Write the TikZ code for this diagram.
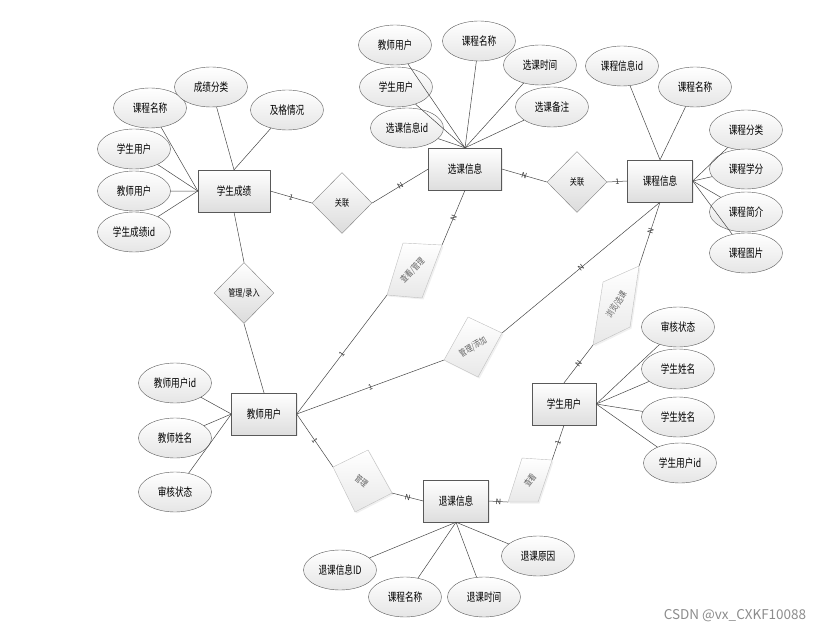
\documentclass[tikz,border=0pt]{standalone}
\usepackage{fontspec}
\setmainfont{Noto Sans CJK SC}[FakeStretch=0.75]
\newfontfamily\markfont{Noto Sans CJK SC}
\usetikzlibrary{shapes.geometric,calc,shadows}

% tilted relation: name, four corners, label, label angle
\newcommand{\tiltrel}[7]{%
	\coordinate (#1-a) at (#2);
	\coordinate (#1-b) at (#3);
	\coordinate (#1-c) at (#4);
	\coordinate (#1-d) at (#5);
	\draw [tilt] (#1-a) -- (#1-b) -- (#1-c) -- (#1-d) -- cycle;
	\node [tiltlabel, rotate=#7] (#1) at ($(#1-b)!0.5!(#1-d)$) {#6};
}

\begin{document}
\begin{tikzpicture}[scale=0.3515]
			\tikzstyle{every node}+=[inner sep=0pt, font=\fontsize{11.5}{13}\selectfont]
			\tikzstyle{entity}=[rectangle, draw=black!65, top color=white, bottom color=black!13, minimum width=65pt, minimum height=42pt, drop shadow={opacity=0.15, shadow xshift=1.2pt, shadow yshift=-1.2pt}]
			\tikzstyle{attr}=[ellipse, draw=black!65, top color=white, bottom color=black!10, minimum width=73pt, minimum height=40pt]
			\tikzstyle{rel}=[diamond, draw=black!50, top color=white, bottom color=black!14, minimum width=60pt, minimum height=61pt, font=\fontsize{9.5}{11}\selectfont]
			\tikzstyle{tilt}=[draw=black!25, top color=white, bottom color=black!9, drop shadow={opacity=0.12, shadow xshift=1.5pt, shadow yshift=-1.5pt}]
			\tikzstyle{tiltlabel}=[text=black!62, font=\fontsize{9}{10}\selectfont]
			\tikzstyle{link}=[draw=black!72, line width=0.5pt]
			\tikzstyle{card}=[font=\markfont\fontsize{7.5}{8}\selectfont, text=black!80, sloped]
			\useasboundingbox (0,0) rectangle (82.9,-63.2);
			% entities
			\node [entity, minimum width=72pt] (xscj) at (23.4,-19.1) {学生成绩};
			\node [entity, minimum width=73pt] (xkxx) at (46.5,-16.9) {选课信息};
			\node [entity] (kcxx) at (66.0,-18.1) {课程信息};
			\node [entity] (jsyh) at (26.4,-41.4) {教师用户};
			\node [entity, minimum width=64pt] (xsyh) at (56.4,-40.4) {学生用户};
			\node [entity] (tkxx) at (45.6,-50.1) {退课信息};
			% attributes of xscj
			\node [attr] (xscj1) at (15.0,-10.8) {课程名称};
			\node [attr] (xscj2) at (21.1,-8.7) {成绩分类};
			\node [attr] (xscj3) at (28.7,-11.0) {及格情况};
			\node [attr] (xscj4) at (13.4,-14.9) {学生用户};
			\node [attr] (xscj5) at (13.4,-19.1) {教师用户};
			\node [attr] (xscj6) at (13.4,-23.2) {学生成绩id};
			% attributes of xkxx
			\node [attr] (xkxx1) at (39.5,-4.5) {教师用户};
			\node [attr] (xkxx2) at (47.9,-4.1) {课程名称};
			\node [attr] (xkxx3) at (54.0,-6.5) {选课时间};
			\node [attr] (xkxx4) at (39.6,-8.7) {学生用户};
			\node [attr] (xkxx5) at (55.2,-10.7) {选课备注};
			\node [attr] (xkxx6) at (40.7,-12.8) {选课信息id};
			% attributes of kcxx
			\node [attr] (kcxx1) at (62.2,-6.6) {课程信息id};
			\node [attr] (kcxx2) at (69.5,-8.7) {课程名称};
			\node [attr] (kcxx3) at (74.6,-13.0) {课程分类};
			\node [attr] (kcxx4) at (74.6,-16.9) {课程学分};
			\node [attr] (kcxx5) at (74.6,-21.2) {课程简介};
			\node [attr] (kcxx6) at (74.6,-25.3) {课程图片};
			% attributes of jsyh
			\node [attr] (jsyh1) at (17.5,-38.3) {教师用户id};
			\node [attr] (jsyh2) at (17.5,-43.8) {教师姓名};
			\node [attr] (jsyh3) at (17.5,-49.2) {审核状态};
			% attributes of xsyh
			\node [attr] (xsyh1) at (67.8,-32.7) {审核状态};
			\node [attr] (xsyh2) at (67.8,-36.9) {学生姓名};
			\node [attr] (xsyh3) at (67.8,-41.7) {学生姓名};
			\node [attr] (xsyh4) at (68.0,-46.3) {学生用户id};
			% attributes of tkxx
			\node [attr] (tkxx1) at (34.0,-57.0) {退课信息ID};
			\node [attr] (tkxx2) at (40.5,-59.7) {课程名称};
			\node [attr] (tkxx3) at (48.4,-59.7) {退课时间};
			\node [attr] (tkxx4) at (53.8,-55.6) {退课原因};
			% relations
			\node [rel] (gl1) at (34.2,-20.3) {关联};
			\node [rel] (gl2) at (57.7,-18.2) {关联};
			\node [rel] (gllr) at (24.4,-29.3) {管理/录入};
			\tiltrel{ckgl}{38.7,-29.5}{40.3,-24.3}{44.2,-24.5}{42.2,-29.8}{查看/管理}{45}
			\tiltrel{gltj}{44.4,-36.0}{46.8,-31.7}{50.2,-33.3}{47.8,-37.7}{管理/添加}{30}
			\tiltrel{llxk}{59.3,-34.5}{60.3,-28.2}{63.9,-26.6}{63.0,-32.7}{浏览/选课}{57}
			\tiltrel{glth}{33.3,-46.7}{36.8,-45.0}{39.2,-49.3}{35.5,-51.2}{管理}{-40}
			\tiltrel{ckth}{50.8,-50.2}{52.2,-45.8}{55.2,-46.0}{53.8,-50.2}{查看}{52}
			% attribute links
			\foreach \i in {1,4,5,6} \draw [link] (xscj.west) -- (xscj\i);
			\foreach \i in {2,3} \draw [link] (xscj.north) -- (xscj\i);
			\foreach \i in {1,...,6} \draw [link] (xkxx.north) -- (xkxx\i);
			\foreach \i in {1,2} \draw [link] (kcxx.north) -- (kcxx\i);
			\foreach \i in {3,...,6} \draw [link] (kcxx.east) -- (kcxx\i);
			\foreach \i in {1,2,3} \draw [link] (jsyh.west) -- (jsyh\i);
			\foreach \i in {1,...,4} \draw [link] (xsyh.east) -- (xsyh\i);
			\foreach \i in {1,...,4} \draw [link] (tkxx.south) -- (tkxx\i);
			% relation links
			\draw [link] (xscj.east) -- node [card] {1} (gl1.west);
			\draw [link] (gl1.east) -- node [card] {N} (xkxx.west);
			\draw [link] (xkxx.east) -- node [card] {N} (gl2.west);
			\draw [link] (gl2.east) -- node [card] {1} (kcxx.west);
			\draw [link] (xscj.south) -- (gllr.north);
			\draw [link] (gllr.south) -- (jsyh.north);
			\draw [link] (jsyh.east) -- node [card] {1} (ckgl-a);
			\draw [link] (ckgl-c) -- node [card] {N} (xkxx.south);
			\draw [link] (jsyh.east) -- node [card] {1} (gltj-a);
			\draw [link] (gltj-c) -- node [card] {N} (kcxx.south);
			\draw [link] (xsyh.north) -- node [card] {N} (llxk-a);
			\draw [link] (llxk-c) -- node [card, pos=0.55] {N} (kcxx.south);
			\draw [link] (jsyh.east) -- node [card] {1} (glth-a);
			\draw [link] (glth-c) -- node [card] {N} (tkxx.west);
			\draw [link] (tkxx.east) -- node [card] {N} (ckth-a);
			\draw [link] (ckth-c) -- node [card] {1} (xsyh.south);
			% watermark
			\node [font=\markfont\fontsize{13.5}{15}\selectfont, text=black!45] (csdn) at (73.5,-61.6) {CSDN @vx\_CXKF10088};
		\end{tikzpicture}
\end{document}
